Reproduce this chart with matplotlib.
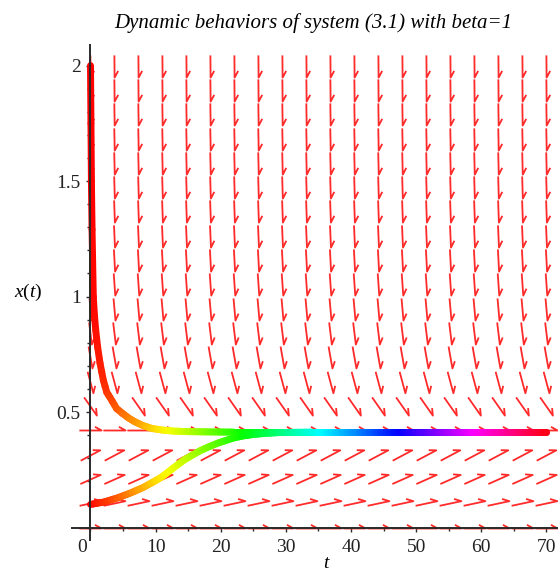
import numpy as np
import matplotlib.pyplot as plt
from matplotlib.path import Path
from matplotlib.markers import MarkerStyle
from matplotlib.transforms import Affine2D
from matplotlib.collections import LineCollection
from matplotlib.ticker import MultipleLocator

plt.rcParams['font.family'] = ['Liberation Serif', 'DejaVu Serif']
plt.rcParams['mathtext.fontset'] = 'custom'
plt.rcParams['mathtext.rm'] = 'Liberation Serif'
plt.rcParams['mathtext.it'] = 'Liberation Serif:italic'

# ---- direction field: 20 x 20 grid, t = 0..70, x = 0..2 ----
field_t = np.linspace(0, 70, 20)
field_x = np.linspace(0, 2, 20)
# screen angle (deg) of the arrows on each row
field_angle = [0, 12, 24, 28, 0, -55, -75, -80, -83, -85,
               -86, -87, -87.5, -88, -88.3, -88.6, -88.9, -89.1, -89.3, -89.5]

# ---- solution curves ----
upper_t = [0, 0.07, 0.14, 0.24, 0.33, 0.43, 0.6, 0.8, 1.1, 1.46, 1.97, 2.5, 3.0,
           4.0, 4.8, 5.8, 6.8, 8.0, 9.4, 11, 12.5, 15, 18, 22, 70]
upper_x = [2.0, 1.75, 1.5, 1.29, 1.15, 1.0, 0.92, 0.855, 0.78, 0.712, 0.638, 0.585, 0.563,
           0.515, 0.497, 0.475, 0.458, 0.442, 0.429, 0.422, 0.418, 0.415, 0.414, 0.413, 0.413]

lower_t = [0, 2, 4, 6, 8, 10, 11, 12, 13.2, 14.5, 15.8, 17, 18.3, 19.5, 20.9,
           22, 23.5, 25, 27, 29, 31, 34, 70]
lower_x = [0.1, 0.11, 0.127, 0.148, 0.172, 0.203, 0.22, 0.242, 0.268, 0.295, 0.316, 0.335,
           0.351, 0.365, 0.378, 0.388, 0.397, 0.403, 0.408, 0.411, 0.412, 0.413, 0.413]

title = "Dynamic behaviors of system (3.1) with beta=1"

fig = plt.figure(figsize=(5.58, 5.72), dpi=100)
ax = fig.add_axes([72/558, 32/572, 486/558, 495/572])
ax.set_xlim(-2.84, 71.77)
ax.set_ylim(-0.054, 2.089)

# half-headed arrow like Maple's
arrow = Path([(-1, 0), (1, 0), (0.4, 0.33)], [Path.MOVETO, Path.LINETO, Path.LINETO])
for xv, ang in zip(field_x, field_angle):
    m = MarkerStyle(arrow, transform=Affine2D().rotate_deg(ang))
    ax.plot(field_t, np.full(len(field_t), xv), ls='none', marker=m, ms=16,
            mec='#ff2a2a', mfc='none', mew=1.3, zorder=2)


def draw_curve(ts, xs):
    # split each drawn segment into short pieces so the colour can follow t
    pts = []
    for i in range(len(ts) - 1):
        n = max(1, int(np.ceil((ts[i + 1] - ts[i]) / 0.4)))
        for k in range(n):
            f = k / n
            pts.append((ts[i] + f * (ts[i + 1] - ts[i]), xs[i] + f * (xs[i + 1] - xs[i])))
    pts.append((ts[-1], xs[-1]))
    pts = np.array(pts)
    segs = np.stack([pts[:-1], pts[1:]], axis=1)
    mid = (pts[:-1, 0] + pts[1:, 0]) / 2
    lc = LineCollection(segs, colors=plt.cm.hsv(mid / 70), linewidths=5,
                        capstyle='round', joinstyle='round', zorder=3)
    ax.add_collection(lc)


draw_curve(upper_t, upper_x)
draw_curve(lower_t, lower_x)

# axes through the origin
for s in ['top', 'right']:
    ax.spines[s].set_visible(False)
for s in ['left', 'bottom']:
    ax.spines[s].set_position(('data', 0))
    ax.spines[s].set_color('#2a2a2a')
    ax.spines[s].set_linewidth(1.4)
    ax.spines[s].set_zorder(4)

ax.set_xticks([10, 20, 30, 40, 50, 60, 70])
ax.xaxis.set_minor_locator(MultipleLocator(5))
ax.set_yticks([0.5, 1, 1.5, 2])
ax.set_yticklabels(['0.5', '1', '1.5', '2'])
ax.yaxis.set_minor_locator(MultipleLocator(0.1))
ax.tick_params(which='both', direction='out', color='#2a2a2a', width=1, labelsize=14,
               labelcolor='#222222')
ax.tick_params(which='major', length=3)
ax.tick_params(which='minor', length=2.5)
ax.tick_params(axis='x', pad=5)
ax.tick_params(axis='y', pad=4)

fig.text(82/558, 1 - 547/572, '0', ha='center', va='center', fontsize=14, color='#222222')
fig.text(28/558, 1 - 292/572, r'$x(t)$', ha='center', va='center', fontsize=14)
fig.text(327/558, 1 - 563/572, r'$t$', ha='center', va='center', fontsize=14)
fig.text(313/558, 1 - 23/572, title, ha='center', va='center', fontsize=15, style='italic')

fig.savefig('out.png', dpi=100)
